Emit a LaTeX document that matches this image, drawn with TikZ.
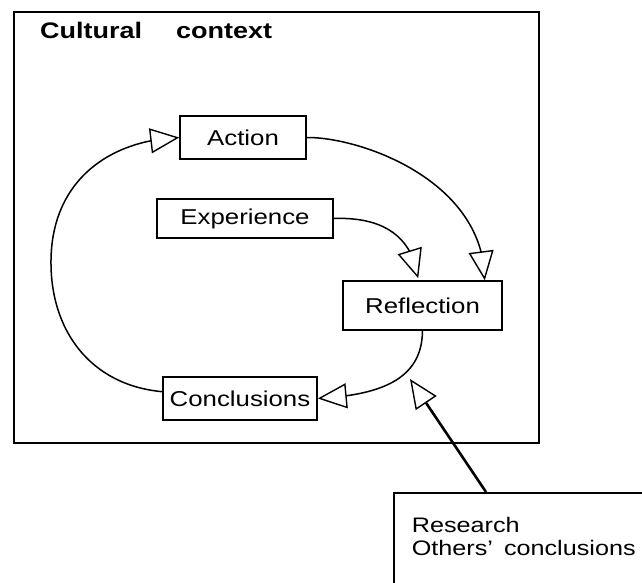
\documentclass[tikz,border=0pt]{standalone}
\usepackage{fontspec}
\setmainfont{Liberation Sans}[FakeStretch=1.2]
\usetikzlibrary{arrows.meta, bending, positioning}

\begin{document}
\begin{tikzpicture}[
    x=1pt, y=-1pt,
    stagebox/.style={draw, line width=1.6pt, inner sep=0pt, font=\fontsize{21.5}{23}\selectfont},
    cyclearrow/.style={line width=1.5pt, -{Triangle[length=29pt, width=25pt, fill=white, line width=1.4pt]}},
    inputarrow/.style={line width=2.6pt, -{Triangle[length=29pt, width=25pt, fill=white, line width=1.4pt]}}
]
    \clip (0,0) rectangle (642,583);
    % Cultural context frame
    \node[draw, line width=1.6pt, minimum width=525pt, minimum height=431pt] (culture) at (276.5,227.5) {};
    \node[anchor=base west, inner sep=0pt, font=\fontsize{22.5}{24}\selectfont\bfseries] (title) at (40,39) {Cultural\hspace{34pt}context};

    % Stages of the cycle
    \node[stagebox, minimum width=126pt, minimum height=43pt] (action) at (243,137.5) {Action};
    \node[stagebox, minimum width=176pt, minimum height=39pt] (experience) at (245,218.5) {Experience};
    \node[stagebox, minimum width=159pt, minimum height=49pt] (reflection) at (422.5,305.5) {Reflection};
    \node[stagebox, minimum width=154pt, minimum height=43pt] (conclusions) at (240,398.5) {Conclusions};

    % Outside input
    \node[draw, line width=1.6pt, anchor=north west, text width=260pt, inner xsep=18pt, inner ysep=24pt, text depth=40pt, align=left, font=\fontsize{21}{23.5}\selectfont] (research) at (393,492) {Research\\Others'\hspace{4pt} conclusions};
    \coordinate (inflow) at (410,379);

    % Arrows
    \draw[cyclearrow] (action.east) .. controls (360,137) and (484,180) .. ([xshift=-18pt]reflection.north east);
    \draw[cyclearrow, shorten >=2pt] (experience.east) .. controls (375,217) and (412,230) .. ([xshift=-4pt]reflection.north);
    \draw[cyclearrow] (reflection.south) .. controls (422,380) and (380,395) .. (conclusions.east);
    \draw[cyclearrow] (conclusions.175) .. controls (90,385) and (50,330) .. (51,260) .. controls (52,180) and (110,140) .. (action.west);
    \draw[inputarrow] ([xshift=93pt]research.north west) -- (inflow);
\end{tikzpicture}
\end{document}
